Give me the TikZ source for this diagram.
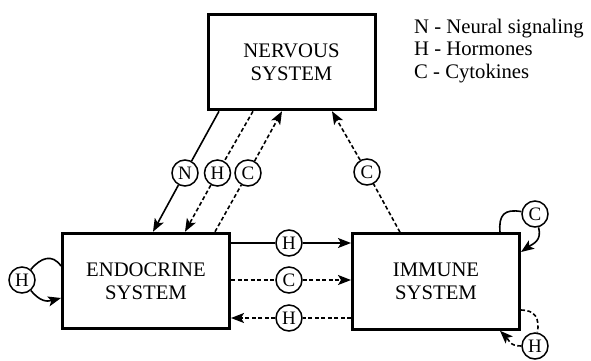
\documentclass[tikz,border=0pt]{standalone}
\usepackage{fontspec}
\setmainfont{Liberation Serif}
\usetikzlibrary{arrows.meta,calc}
\begin{document}
\begin{tikzpicture}[x=1pt,y=-1pt,
  sysbox/.style={draw,line width=3pt,minimum width=167pt,minimum height=95.5pt,
    align=center,inner sep=0pt,font=\fontsize{20.7}{23.5}\selectfont},
  sig/.style={draw,circle,line width=1.5pt,minimum size=26pt,inner sep=0pt,
    font=\fontsize{19}{19}\selectfont},
  conn/.style={line width=1.6pt},
  dconn/.style={line width=1.6pt,dash pattern=on 4pt off 2.5pt},
  tip/.style={-{Stealth[length=13pt,width=10pt,inset=3pt]}},
  legend/.style={anchor=base west,inner sep=0pt,font=\fontsize{20.7}{24}\selectfont}]
\useasboundingbox (0,0) rectangle (591,360);

% systems
\node[sysbox] (nerv) at (291.5,62) {NERVOUS\\SYSTEM};
\node[sysbox] (endo) at (146,281) {ENDOCRINE\\SYSTEM};
\node[sysbox] (immu) at (436,281.5) {IMMUNE\\SYSTEM};

% legend
\node[legend] (lN) at (414,33) {N - Neural signaling};
\node[legend] (lH) at (414,55.5) {H - Hormones};
\node[legend] (lC) at (414,78) {C - Cytokines};

% signal circles
\node[sig] (cN) at (185,173) {N};
\node[sig] (cH) at (217.5,173) {H};
\node[sig] (cC) at (248,173) {C};
\node[sig] (cR) at (367,172) {C};
\node[sig] (hA) at (289,243) {H};
\node[sig] (cB) at (289,280) {C};
\node[sig] (hC) at (289,318) {H};
\node[sig] (hE) at (22,280) {H};
\node[sig] (cI) at (535,214) {C};
\node[sig] (hI) at (535,346) {H};

% anchor points on boxes
\coordinate (nN) at ([xshift=-72.5pt]nerv.south);
\coordinate (nH) at ([xshift=-38.5pt]nerv.south);
\coordinate (nC) at ([xshift=-9.5pt]nerv.south);
\coordinate (nR) at ([xshift=40.5pt]nerv.south);
\coordinate (eN) at ([xshift=7pt]endo.north);
\coordinate (eH) at ([xshift=39pt]endo.north);
\coordinate (eC) at ([xshift=69pt]endo.north);
\coordinate (iR) at ([xshift=-36pt]immu.north);

% nervous <-> endocrine
\draw[conn] (nN) -- (cN);
\draw[conn,tip] (cN) -- (eN);
\draw[dconn] (nH) -- (cH);
\draw[dconn,tip] (cH) -- (eH);
\draw[dconn] (eC) -- (cC);
\draw[dconn,tip] (cC) -- (nC);

% immune -> nervous
\draw[dconn] (iR) -- (cR);
\draw[dconn,tip] (cR) -- (nR);

% endocrine <-> immune
\draw[conn] (endo.east |- hA) -- (hA);
\draw[conn,tip] (hA) -- (immu.west |- hA);
\draw[dconn] (endo.east |- cB) -- (cB);
\draw[dconn,tip] (cB) -- (immu.west |- cB);
\draw[dconn] (immu.west |- hC) -- (hC);
\draw[dconn,tip] (hC) -- (endo.east |- hC);

% endocrine self loop
\coordinate (eL1) at ([yshift=15pt]endo.west);
\coordinate (eL2) at ([yshift=-17pt]endo.west);
\draw[conn] (eL1) to[out=125,in=50,looseness=1.3] (hE);
\draw[conn,tip] (hE) to[out=-50,in=-165,looseness=1.2] (eL2);

% immune cytokine self loop
\coordinate (iC1) at ([xshift=64pt]immu.north);
\coordinate (iC2) at ([yshift=29.5pt]immu.east);
\draw[conn] (iC1) to[out=95,in=170,looseness=1.5] (cI);
\draw[conn,tip] (cI) to[out=-75,in=35,looseness=1.2] (iC2);

% immune hormone self loop
\coordinate (iH1) at ([yshift=-28.5pt]immu.east);
\coordinate (iH2) at ([xshift=64pt]immu.south);
\draw[dconn] (iH1) to[out=0,in=80,looseness=1.3] (hI);
\draw[dconn,tip] (hI) to[out=180,in=-45,looseness=1.2] (iH2);
\end{tikzpicture}
\end{document}
